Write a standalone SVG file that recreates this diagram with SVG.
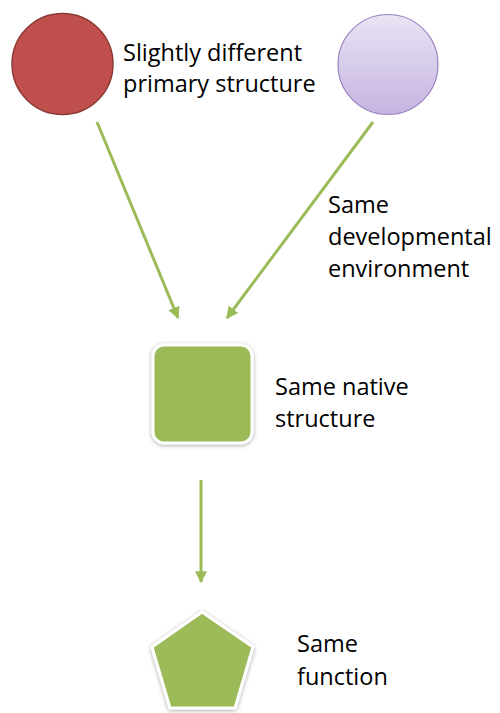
<svg xmlns="http://www.w3.org/2000/svg" width="500" height="713" viewBox="0 0 500 713">
<defs>
<style>
.lbl{font-family:"Open Sans","Liberation Sans",sans-serif;font-size:23.5px;fill:#000}
.conn{stroke:#9BBB59;stroke-width:3;fill:none;marker-end:url(#ah)}
</style>
<marker id="ah" viewBox="0 0 10 10" refX="9" refY="5" markerWidth="4" markerHeight="4" orient="auto" markerUnits="strokeWidth">
<path d="M0,0 L10,5 L0,10 z" fill="#9BBB59"/>
</marker>
<linearGradient id="pg" x1="0" y1="0" x2="0" y2="1">
<stop offset="0" stop-color="#E9E4F4"/>
<stop offset="1" stop-color="#C5B3E0"/>
</linearGradient>
<filter id="sh" x="-20%" y="-20%" width="140%" height="140%">
<feGaussianBlur in="SourceAlpha" stdDeviation="2"/>
<feOffset dx="0" dy="1" result="b"/>
<feComponentTransfer><feFuncA type="linear" slope="0.35"/></feComponentTransfer>
<feMerge><feMergeNode/><feMergeNode in="SourceGraphic"/></feMerge>
</filter>
</defs>
<rect width="500" height="713" fill="#fff"/>
<g id="connectors">
<line class="conn" x1="97" y1="122" x2="178" y2="318"/>
<line class="conn" x1="373" y1="122" x2="227" y2="318"/>
<line class="conn" x1="201" y1="480" x2="201" y2="582"/>
</g>
<g id="red-circle">
<circle cx="62.5" cy="64" r="50.5" fill="#C0504D" stroke="#8C3836" stroke-width="1.5"/>
</g>
<g id="label-primary">
<text class="lbl" x="123" y="61">Slightly different</text>
<text class="lbl" x="123" y="92">primary structure</text>
</g>
<g id="purple-circle">
<circle cx="388" cy="64.5" r="50" fill="url(#pg)" stroke="#9A84C2" stroke-width="1.2"/>
</g>
<g id="label-environment">
<text class="lbl" x="328" y="213">Same</text>
<text class="lbl" x="328" y="245">developmental</text>
<text class="lbl" x="328" y="277">environment</text>
</g>
<g id="native-structure">
<rect x="153" y="345" width="99" height="98" rx="11" fill="#9BBB59" stroke="#fff" stroke-width="3" filter="url(#sh)"/>
</g>
<g id="label-native">
<text class="lbl" x="275" y="395">Same native</text>
<text class="lbl" x="275" y="427">structure</text>
</g>
<g id="function">
<polygon points="202,612 253,647 235,708 170,708 152,647" fill="#9BBB59" stroke="#fff" stroke-width="3" stroke-linejoin="round" filter="url(#sh)"/>
</g>
<g id="label-function">
<text class="lbl" x="297" y="652">Same</text>
<text class="lbl" x="297" y="685">function</text>
</g>
</svg>
